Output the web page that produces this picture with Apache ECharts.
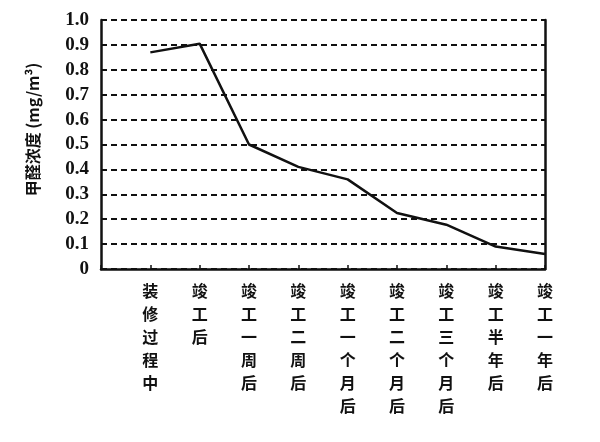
<!DOCTYPE html>
<html>
<head>
<meta charset="utf-8">
<script src="https://cdn.jsdelivr.net/npm/echarts@6/dist/echarts.min.js"></script>
<style>html,body{margin:0;padding:0;background:#fff;}#c{width:600px;height:442px;}</style>
</head>
<body>
<div id="c"></div>
<script>
const categories = ['装修过程中', '竣工后', '竣工一周后', '竣工二周后', '竣工一个月后', '竣工二个月后', '竣工三个月后', '竣工半年后', '竣工一年后'];
const values = [0.87, 0.905, 0.50, 0.41, 0.36, 0.225, 0.178, 0.09, 0.06];
const yTickLabels = ['0', '0.1', '0.2', '0.3', '0.4', '0.5', '0.6', '0.7', '0.8', '0.9', '1.0'];
const yName = '甲醛浓度 (mg/m³)';

const chart = echarts.init(document.getElementById('c'), null, {renderer: 'canvas'});
const ink = '#111';
chart.setOption({
  backgroundColor: '#fff',
  animation: false,
  grid: {left: 101, right: 55, top: 20, bottom: 173, containLabel: false},
  xAxis: {
    type: 'value', min: -1, max: 8, interval: 1,
    axisLine: {show: true, onZero: false, lineStyle: {color: ink, width: 2.5}},
    axisTick: {show: true, inside: true, length: 4, lineStyle: {color: ink, width: 1.5}},
    splitLine: {show: false},
    axisLabel: {
      margin: 10, verticalAlign: 'top',
      formatter: function (v) { const s = categories[Math.round(v)]; return (v >= 0 && s) ? s.split('').join('\n') : ''; },
      color: ink, fontSize: 16, lineHeight: 23, fontWeight: 'bold', fontFamily: 'Noto Sans CJK SC'
    }
  },
  yAxis: [{
    type: 'value', min: 0, max: 1, interval: 0.1,
    name: yName, nameLocation: 'middle', nameGap: 60, nameRotate: 90,
    nameTextStyle: {color: ink, fontSize: 16, fontWeight: 'bold', fontFamily: 'Noto Sans CJK SC', padding: [0, 0, 0, 30]},
    axisLine: {show: true, onZero: false, lineStyle: {color: ink, width: 2.5}},
    axisTick: {show: false},
    axisLabel: {
      margin: 12,
      formatter: function (v) { return yTickLabels[Math.round(v * 10)]; },
      color: ink, fontSize: 19, fontWeight: 'bold', fontFamily: 'Liberation Serif'
    },
    splitLine: {show: true, lineStyle: {color: ink, width: 2, type: [6, 4]}}
  }, {
    type: 'value', min: 0, max: 1, interval: 0.1, position: 'right',
    axisLine: {show: true, onZero: false, lineStyle: {color: ink, width: 2.5}},
    axisTick: {show: false}, axisLabel: {show: false}, splitLine: {show: false}
  }],
  series: [{
    type: 'line',
    data: values.map((v, i) => [i, v]),
    showSymbol: false, symbol: 'none', smooth: false,
    lineStyle: {color: ink, width: 2.5}
  }]
});
</script>
</body>
</html>
